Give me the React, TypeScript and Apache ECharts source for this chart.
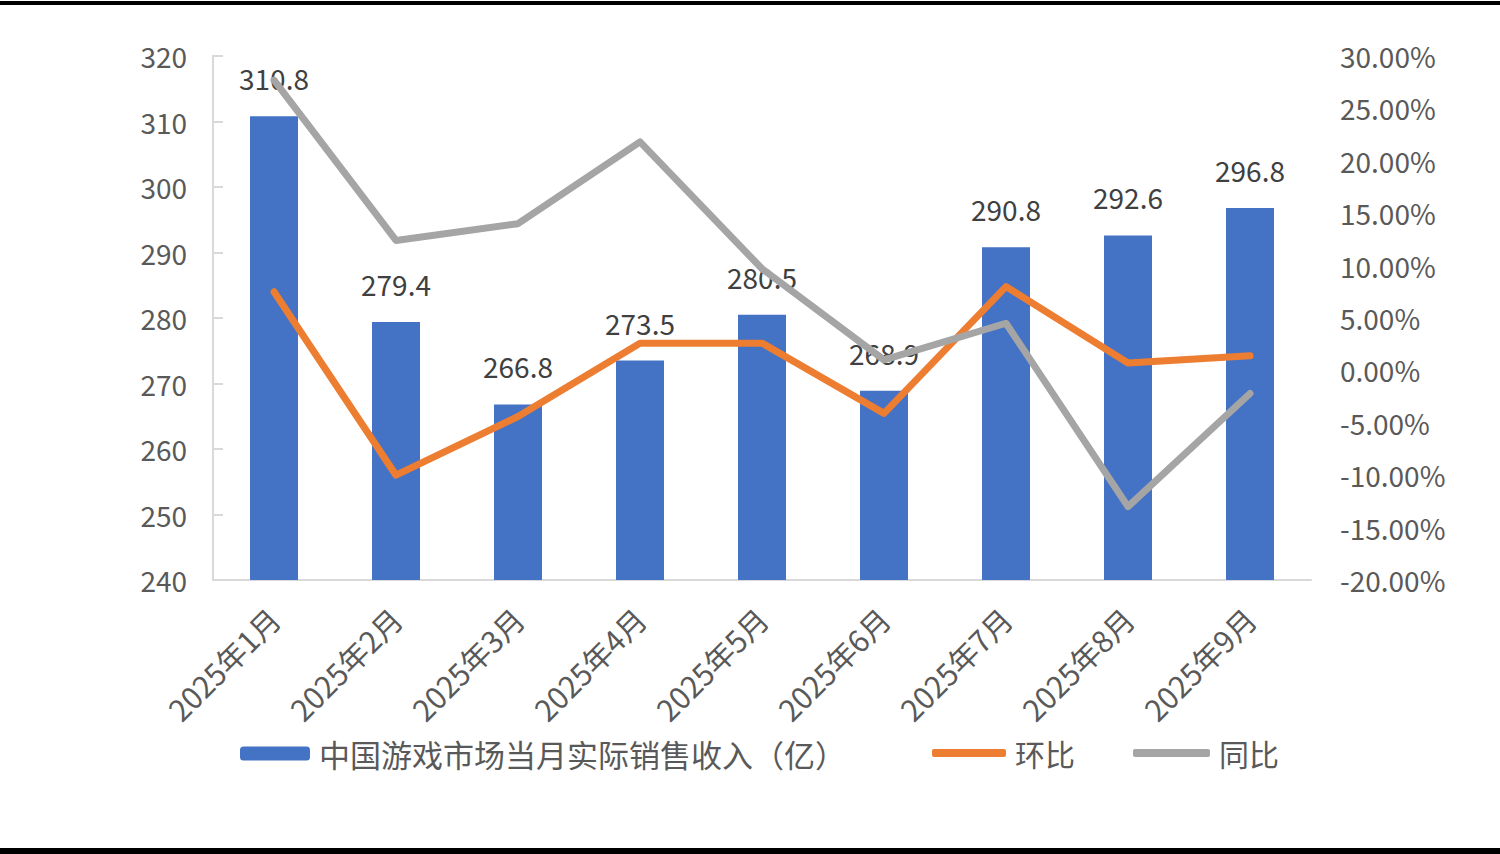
import React, { useEffect, useRef } from "react";
import * as echarts from "echarts";

const categories = [
  "2025年1月", "2025年2月", "2025年3月", "2025年4月", "2025年5月",
  "2025年6月", "2025年7月", "2025年8月", "2025年9月",
];
const revenue = [310.8, 279.4, 266.8, 273.5, 280.5, 268.9, 290.8, 292.6, 296.8];
const momPct = [7.5, -10.0, -4.4, 2.6, 2.6, -4.1, 8.0, 0.7, 1.4];
const yoyPct = [27.7, 12.4, 14.0, 21.8, 9.7, 1.0, 4.5, -13.0, -2.2];

const NAME_BAR = "中国游戏市场当月实际销售收入（亿）";
const NAME_MOM = "环比";
const NAME_YOY = "同比";

const FONT = "'Noto Sans CJK SC', 'Noto Sans', sans-serif";

export default function App() {
  const ref = useRef<HTMLDivElement>(null);
  useEffect(() => {
    if (!ref.current) return;
    const chart = echarts.init(ref.current, undefined, { renderer: "svg" });
    const legendText = { color: "#595959", fontSize: 30, fontFamily: FONT, padding: [0, 0, 0, 4] };
    chart.setOption({
      animation: false,
      backgroundColor: "#ffffff",
      textStyle: { fontFamily: FONT },
      grid: { left: 213, right: 189, top: 56, bottom: 274, containLabel: false },
      graphic: [
        { type: "rect", left: 0, top: 1, shape: { width: 1500, height: 4 }, style: { fill: "#000" } },
        { type: "rect", left: 0, top: 848, shape: { width: 1500, height: 6 }, style: { fill: "#000" } },
      ],
      legend: [
        {
          data: [NAME_BAR], left: 240, top: 738, padding: 0, itemWidth: 70, itemHeight: 14,
          textStyle: { ...legendText, fontSize: 31 }, selectedMode: false,
        },
        {
          data: [{ name: NAME_MOM, icon: "roundRect" }], left: 932, top: 738, padding: 0,
          itemWidth: 74, itemHeight: 8, textStyle: legendText, selectedMode: false,
        },
        {
          data: [{ name: NAME_YOY, icon: "roundRect" }], left: 1133, top: 738, padding: 0,
          itemWidth: 77, itemHeight: 8, textStyle: legendText, selectedMode: false,
        },
      ],
      xAxis: {
        type: "category",
        data: categories,
        axisLine: { onZero: false, lineStyle: { color: "#d9d9d9", width: 2 } },
        axisTick: { show: false },
        axisLabel: { rotate: 45, color: "#595959", fontSize: 30, margin: 33, fontFamily: FONT },
      },
      yAxis: [
        {
          type: "value", min: 240, max: 320, interval: 10,
          axisLine: { show: true, lineStyle: { color: "#d9d9d9", width: 2 } },
          axisTick: { show: true, inside: true, length: 10, lineStyle: { color: "#d9d9d9", width: 2 } },
          splitLine: { show: false },
          axisLabel: { color: "#595959", fontSize: 28, margin: 26, fontFamily: FONT },
        },
        {
          type: "value", min: -20, max: 30, interval: 5, position: "right",
          axisLine: { show: false },
          axisTick: { show: false },
          splitLine: { show: false },
          axisLabel: {
            color: "#595959", fontSize: 28, margin: 29, fontFamily: FONT,
            formatter: (v: number) => v.toFixed(2) + "%",
          },
        },
      ],
      series: [
        {
          name: NAME_BAR, type: "bar", data: revenue, barWidth: 48, z: 1,
          itemStyle: { color: "#4472C4" },
          label: {
            show: true, position: "top", distance: 24, color: "#404040", fontSize: 28,
            fontFamily: FONT, formatter: (p: any) => String(p.value),
          },
        },
        {
          name: NAME_MOM, type: "line", yAxisIndex: 1, data: momPct, symbol: "none", z: 3,
          itemStyle: { color: "#ED7D31" },
          lineStyle: { color: "#ED7D31", width: 7, cap: "round", join: "round" },
        },
        {
          name: NAME_YOY, type: "line", yAxisIndex: 1, data: yoyPct, symbol: "none", z: 3,
          itemStyle: { color: "#A5A5A5" },
          lineStyle: { color: "#A5A5A5", width: 7, cap: "round", join: "round" },
        },
      ],
    });
    return () => chart.dispose();
  }, []);
  return (
    <div
      ref={ref}
      style={{ position: "fixed", left: 0, top: 0, width: 1500, height: 854 }}
    />
  );
}
